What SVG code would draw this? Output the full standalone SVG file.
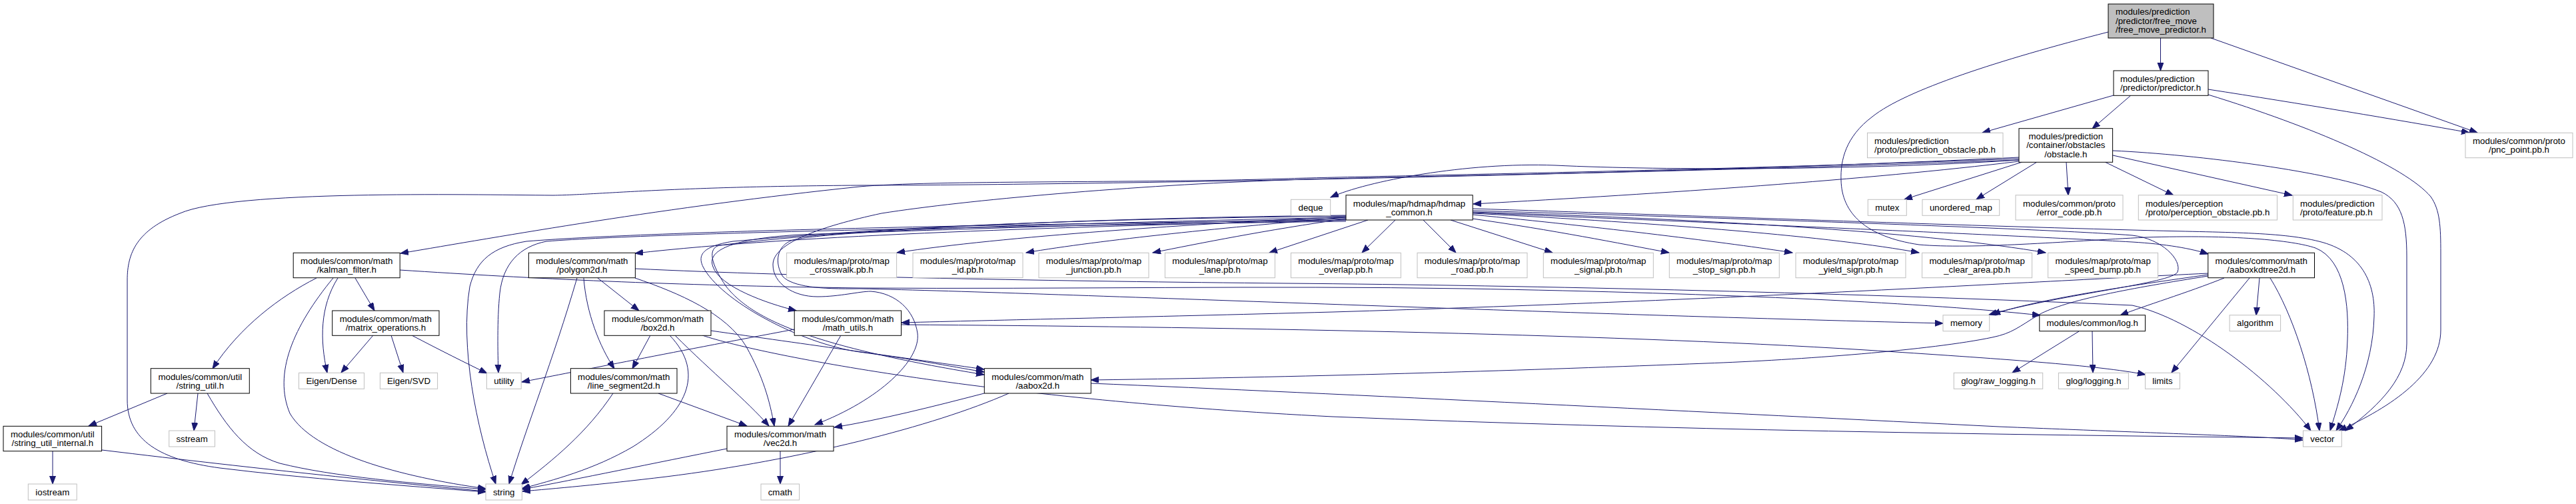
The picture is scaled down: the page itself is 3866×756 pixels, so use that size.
<svg xmlns="http://www.w3.org/2000/svg" width="3866" height="756" viewBox="0 0 3866 756">
<style>
.n rect{fill:#fff;stroke:#000;stroke-width:1}
.x rect{fill:#fff;stroke:#bfbfbf;stroke-width:1}
.r rect{fill:#bfbfbf;stroke:#000;stroke-width:1}
text{font-family:"Liberation Sans",Arial,Helvetica,sans-serif;font-size:13.3px;fill:#000}
.c{text-anchor:middle}
#edges path{fill:none;stroke:#191970;stroke-width:1;marker-end:url(#ah)}
</style>
<defs>
<marker id="ah" markerWidth="14" markerHeight="11" refX="12" refY="4.5" orient="auto" markerUnits="userSpaceOnUse"><path d="M0,0 L12,4.5 L0,9 Z" fill="#191970" stroke="#191970" stroke-width="1"/></marker>
</defs>
<rect width="3866" height="756" fill="#fff"/>
<g id="edges">
<path d="M3242.5,57 L3242.5,106"/>
<path d="M3318,57 L3718,199"/>
<path d="M3314,134 C3450,155 3600,180 3706,199"/>
<path d="M3172,143 L2975,199"/>
<path d="M3198,143 L3140,193"/>
<path d="M3314,142 C3470,190 3610,250 3648,295 C3662,315 3663,340 3663,380 L3663,495 C3663,560 3590,610 3510,646"/>
<path d="M3171,226 C3300,232 3500,258 3574,288 C3605,303 3612,335 3612,385 L3612,515 C3612,565 3575,605 3520,646"/>
<path d="M3164,48 C3000,90 2860,135 2810,175 C2770,205 2762,240 2763,270 C2764,320 2800,355 2880,367 C2960,374 3100,362 3220,356 C3350,352 3440,360 3475,372 C3520,390 3525,460 3523,510 C3521,570 3508,610 3497,646"/>
<path d="M2210,313 C2500,322 2900,337 3200,345 C3330,349 3420,347 3480,362 C3545,378 3565,425 3563,475 C3561,550 3530,612 3506,646"/>
<path d="M2210,319 C2600,335 3000,352 3200,363 C3250,366 3290,373 3314,381"/>
<path d="M2210,316 C2700,330 3100,345 3200,353 C3245,358 3275,390 3268,408 C3260,425 3100,440 2985,472"/>
<path d="M3314,412 C3200,428 3050,450 2990,472"/>
<path d="M3314,414 C3200,432 3100,450 3060,472 C3030,490 3020,500 2990,506 C2900,525 2700,540 2560,545 C2300,555 2000,565 1637,570"/>
<path d="M3314,410 C3000,425 2600,450 2000,468 C1700,476 1500,480 1353,484"/>
<path d="M3338,417 C3280,440 3220,458 3182,473"/>
<path d="M3391,417 L3386,473"/>
<path d="M3376,417 L3259,559"/>
<path d="M3407,417 C3440,470 3470,560 3481,646"/>
<path d="M953,403 C1200,415 1600,422 1930,425 C2300,428 2800,440 3200,458 C3290,478 3410,570 3468,646"/>
<path d="M600,405 C800,418 1000,428 1290,432 C1600,434 1900,428 2200,433 C2600,440 2900,455 3062,473"/>
<path d="M2020,326 C1600,335 1250,345 1190,360 C1165,368 1162,395 1175,415 C1190,430 1230,434 1290,433 C1600,440 2300,470 2916,485"/>
<path d="M3030,240 C2500,260 2050,265 1930,270 C1700,278 1450,300 1323,320 C1230,340 1160,365 1160,397 C1160,425 1190,445 1227,445 C1260,445 1290,437 1307,437 C1345,440 1372,465 1377,500 C1382,540 1320,600 1223,637"/>
<path d="M2020,328 C1700,335 1400,345 1200,352 C1100,358 1060,375 1070,400 C1080,430 1150,455 1195,466"/>
<path d="M2020,324 C1700,328 1400,335 1100,362 C1050,370 1048,385 1055,400 C1080,450 1200,515 1290,528 C1380,540 1440,552 1477,558"/>
<path d="M2020,323 C1700,326 1300,340 1080,368 C1062,372 1066,395 1090,430 C1130,480 1220,520 1477,562"/>
<path d="M2020,330 C1600,335 1000,345 790,362 C740,370 715,390 705,430 C690,520 715,640 744,726"/>
<path d="M2020,332 C1600,338 1000,348 820,362 C780,370 755,395 750,440 C746,480 747,530 748,559"/>
<path d="M2020,330 C1600,340 1200,352 953,380"/>
<path d="M2020,325 C1800,335 1500,355 1346,379"/>
<path d="M2020,326 C1850,340 1650,360 1540,379"/>
<path d="M2020,328 C1900,345 1800,365 1730,379"/>
<path d="M2053,330 L1905,379"/>
<path d="M2094,330 L2044,379"/>
<path d="M2136,330 L2185,379"/>
<path d="M2177,330 L2330,379"/>
<path d="M2210,328 C2330,345 2430,365 2505,379"/>
<path d="M2210,322 C2400,340 2600,365 2690,379"/>
<path d="M2210,320 C2500,335 2750,355 2880,379"/>
<path d="M2210,318 C2600,330 2900,350 3070,379"/>
<path d="M3030,240 C2800,255 2500,256 2334,248 C2200,243 2050,272 1997,296"/>
<path d="M3030,242 C2800,270 2500,290 2211,306"/>
<path d="M3030,238 C2500,258 2000,265 1930,268 C1700,275 1400,270 1290,280 C1000,310 750,355 601,380"/>
<path d="M3030,236 C2500,262 1600,278 1290,278 C1000,280 900,292 830,293 C700,292 350,285 270,320 C205,345 191,380 191,420 L191,600 C191,660 240,690 330,702 C460,718 600,728 729,738"/>
<path d="M3035,243 L2858,299"/>
<path d="M3057,243 L2966,299"/>
<path d="M3101,243 L3104,293"/>
<path d="M3159,243 L3262,293"/>
<path d="M3171,233 L3440,293"/>
<path d="M475,417 C420,445 360,490 319,553"/>
<path d="M500,417 C440,490 410,560 435,620 C470,680 600,715 729,733"/>
<path d="M507,417 C480,460 480,510 491,559"/>
<path d="M533,417 L562,466"/>
<path d="M560,503 L512,559"/>
<path d="M587,503 L605,559"/>
<path d="M618,503 C660,525 700,545 731,560"/>
<path d="M251,590 L133,639"/>
<path d="M297,590 L291,646"/>
<path d="M311,590 C340,640 370,680 420,695 C500,715 620,725 729,734"/>
<path d="M79,677 L79,726"/>
<path d="M153,675 C400,705 600,725 729,737"/>
<path d="M866,417 C830,540 790,640 764,726"/>
<path d="M876,417 C880,470 900,520 922,553"/>
<path d="M897,417 L959,466"/>
<path d="M953,417 C1020,440 1090,470 1120,520 C1145,565 1155,600 1162,639"/>
<path d="M976,503 L949,553"/>
<path d="M1005,503 C1060,560 1030,620 950,670 C890,705 830,720 783,733"/>
<path d="M1013,503 C1070,560 1120,600 1154,639"/>
<path d="M1067,496 C1200,515 1380,540 1477,554"/>
<path d="M1054,503 C1150,535 1500,600 2000,625 C2500,645 3000,652 3456,657"/>
<path d="M988,590 L1121,639"/>
<path d="M920,590 C880,650 830,690 782,727"/>
<path d="M1091,673 C980,695 870,718 784,734"/>
<path d="M1171,677 L1171,726"/>
<path d="M1262,503 L1183,639"/>
<path d="M1192,494 C1000,530 850,560 783,573"/>
<path d="M1353,487 C1800,490 2400,500 2800,525 C3000,538 3150,548 3220,562"/>
<path d="M1477,590 C1400,610 1320,630 1252,641"/>
<path d="M1514,590 C1400,640 1200,690 1000,715 C900,727 830,733 784,737"/>
<path d="M1637,575 C2000,590 2600,620 3000,640 C3300,652 3400,655 3456,660"/>
<path d="M3120,497 L3020,559"/>
<path d="M3140,497 L3141,559"/>
</g>
<g id="n_root" class="r"><rect x="3164" y="6" width="158" height="51"/><text x="3175" y="22">modules/prediction</text><text x="3175" y="35.8">/predictor/free_move</text><text x="3175" y="49.3">/free_move_predictor.h</text></g>
<g id="n_predictor" class="n"><rect x="3172" y="106" width="142" height="37.3"/><text x="3182" y="122.5">modules/prediction</text><text x="3182" y="136">/predictor/predictor.h</text></g>
<g id="n_pnc" class="x"><rect x="3700" y="199.3" width="161" height="37.4"/><text class="c" x="3780.5" y="216.3">modules/common/proto</text><text class="c" x="3780.5" y="229.3">/pnc_point.pb.h</text></g>
<g id="n_predobs" class="x"><rect x="2802.5" y="199.3" width="203.5" height="37.4"/><text x="2813" y="216.3">modules/prediction</text><text x="2813" y="229.3">/proto/prediction_obstacle.pb.h</text></g>
<g id="n_obstacle" class="n"><rect x="3030" y="192.7" width="140.6" height="50.6"/><text class="c" x="3100.3" y="208.8">modules/prediction</text><text class="c" x="3100.3" y="222.3">/container/obstacles</text><text class="c" x="3100.3" y="235.8">/obstacle.h</text></g>
<g id="n_mutex" class="x"><rect x="2803.3" y="299.3" width="58" height="24"/><text class="c" x="2832.3" y="316">mutex</text></g>
<g id="n_umap" class="x"><rect x="2885" y="299.3" width="115.7" height="24"/><text class="c" x="2942.9" y="316">unordered_map</text></g>
<g id="n_errcode" class="x"><rect x="3025" y="292.7" width="161" height="37.3"/><text class="c" x="3105.5" y="309.7">modules/common/proto</text><text class="c" x="3105.5" y="322.7">/error_code.pb.h</text></g>
<g id="n_percep" class="x"><rect x="3209.3" y="292.7" width="208.2" height="37.3"/><text x="3220" y="309.7">modules/perception</text><text x="3220" y="322.7">/proto/perception_obstacle.pb.h</text></g>
<g id="n_feature" class="x"><rect x="3441.3" y="292.7" width="133.7" height="37.3"/><text x="3452" y="309.7">modules/prediction</text><text x="3452" y="322.7">/proto/feature.pb.h</text></g>
<g id="n_deque" class="x"><rect x="1937.4" y="299.3" width="59.3" height="24"/><text class="c" x="1967" y="316">deque</text></g>
<g id="n_hdmap" class="n"><rect x="2020" y="292.7" width="190.2" height="37.3"/><text class="c" x="2115" y="309.7">modules/map/hdmap/hdmap</text><text class="c" x="2115" y="322.7">_common.h</text></g>
<g id="n_kalman" class="n"><rect x="440.2" y="379.3" width="160" height="37.4"/><text class="c" x="520.2" y="396.3">modules/common/math</text><text class="c" x="520.2" y="409.3">/kalman_filter.h</text></g>
<g id="n_polygon2d" class="n"><rect x="793.4" y="379.3" width="160" height="37.4"/><text class="c" x="873.4" y="396.3">modules/common/math</text><text class="c" x="873.4" y="409.3">/polygon2d.h</text></g>
<g id="n_crosswalk" class="x"><rect x="1180.6" y="379.3" width="165" height="37.4"/><text class="c" x="1263.1" y="396.3">modules/map/proto/map</text><text class="c" x="1263.1" y="409.3">_crosswalk.pb.h</text></g>
<g id="n_mapid" class="x"><rect x="1370" y="379.3" width="165" height="37.4"/><text class="c" x="1452.5" y="396.3">modules/map/proto/map</text><text class="c" x="1452.5" y="409.3">_id.pb.h</text></g>
<g id="n_junction" class="x"><rect x="1559" y="379.3" width="165" height="37.4"/><text class="c" x="1641.5" y="396.3">modules/map/proto/map</text><text class="c" x="1641.5" y="409.3">_junction.pb.h</text></g>
<g id="n_lane" class="x"><rect x="1748.4" y="379.3" width="165" height="37.4"/><text class="c" x="1830.9" y="396.3">modules/map/proto/map</text><text class="c" x="1830.9" y="409.3">_lane.pb.h</text></g>
<g id="n_overlap" class="x"><rect x="1937.4" y="379.3" width="165" height="37.4"/><text class="c" x="2019.9" y="396.3">modules/map/proto/map</text><text class="c" x="2019.9" y="409.3">_overlap.pb.h</text></g>
<g id="n_road" class="x"><rect x="2127" y="379.3" width="165" height="37.4"/><text class="c" x="2209.5" y="396.3">modules/map/proto/map</text><text class="c" x="2209.5" y="409.3">_road.pb.h</text></g>
<g id="n_signal" class="x"><rect x="2316.3" y="379.3" width="165" height="37.4"/><text class="c" x="2398.8" y="396.3">modules/map/proto/map</text><text class="c" x="2398.8" y="409.3">_signal.pb.h</text></g>
<g id="n_stopsign" class="x"><rect x="2505.3" y="379.3" width="165" height="37.4"/><text class="c" x="2587.8" y="396.3">modules/map/proto/map</text><text class="c" x="2587.8" y="409.3">_stop_sign.pb.h</text></g>
<g id="n_yield" class="x"><rect x="2695" y="379.3" width="165" height="37.4"/><text class="c" x="2777.5" y="396.3">modules/map/proto/map</text><text class="c" x="2777.5" y="409.3">_yield_sign.pb.h</text></g>
<g id="n_cleararea" class="x"><rect x="2884.6" y="379.3" width="165" height="37.4"/><text class="c" x="2967.1" y="396.3">modules/map/proto/map</text><text class="c" x="2967.1" y="409.3">_clear_area.pb.h</text></g>
<g id="n_speedbump" class="x"><rect x="3073.6" y="379.3" width="165" height="37.4"/><text class="c" x="3156.1" y="396.3">modules/map/proto/map</text><text class="c" x="3156.1" y="409.3">_speed_bump.pb.h</text></g>
<g id="n_aaboxkd" class="n"><rect x="3313.8" y="379.3" width="159.7" height="37.4"/><text class="c" x="3393.7" y="396.3">modules/common/math</text><text class="c" x="3393.7" y="409.3">/aaboxkdtree2d.h</text></g>
<g id="n_matrix" class="n"><rect x="498.7" y="466" width="160.3" height="37.3"/><text class="c" x="578.9" y="483">modules/common/math</text><text class="c" x="578.9" y="496">/matrix_operations.h</text></g>
<g id="n_box2d" class="n"><rect x="907" y="466" width="160" height="37.3"/><text class="c" x="987" y="483">modules/common/math</text><text class="c" x="987" y="496">/box2d.h</text></g>
<g id="n_mathutils" class="n"><rect x="1192.2" y="466" width="160.3" height="37.3"/><text class="c" x="1272.4" y="483">modules/common/math</text><text class="c" x="1272.4" y="496">/math_utils.h</text></g>
<g id="n_memory" class="x"><rect x="2916" y="472.7" width="69.7" height="24"/><text class="c" x="2950.9" y="489.4">memory</text></g>
<g id="n_log" class="n"><rect x="3060.8" y="472.7" width="158.7" height="24"/><text class="c" x="3140.2" y="489.4">modules/common/log.h</text></g>
<g id="n_algorithm" class="x"><rect x="3346.1" y="472.7" width="76.5" height="24"/><text class="c" x="3384.4" y="489.4">algorithm</text></g>
<g id="n_stringutil" class="n"><rect x="226.3" y="552.7" width="148" height="37.3"/><text class="c" x="300.3" y="569.7">modules/common/util</text><text class="c" x="300.3" y="582.7">/string_util.h</text></g>
<g id="n_eigendense" class="x"><rect x="448.5" y="559.3" width="98" height="24"/><text class="c" x="497.5" y="576">Eigen/Dense</text></g>
<g id="n_eigensvd" class="x"><rect x="570.4" y="559.3" width="86.2" height="24"/><text class="c" x="613.5" y="576">Eigen/SVD</text></g>
<g id="n_utility" class="x"><rect x="730.4" y="559.3" width="51.8" height="24"/><text class="c" x="756.3" y="576">utility</text></g>
<g id="n_lineseg" class="n"><rect x="856.4" y="552.7" width="159.6" height="37.3"/><text class="c" x="936.2" y="569.7">modules/common/math</text><text class="c" x="936.2" y="582.7">/line_segment2d.h</text></g>
<g id="n_aabox2d" class="n"><rect x="1477.3" y="552.7" width="160" height="37.3"/><text class="c" x="1557.3" y="569.7">modules/common/math</text><text class="c" x="1557.3" y="582.7">/aabox2d.h</text></g>
<g id="n_rawlog" class="x"><rect x="2932.3" y="559.3" width="133.4" height="24"/><text class="c" x="2999" y="576">glog/raw_logging.h</text></g>
<g id="n_glog" class="x"><rect x="3089.4" y="559.3" width="105" height="24"/><text class="c" x="3141.9" y="576">glog/logging.h</text></g>
<g id="n_limits" class="x"><rect x="3219.5" y="559.3" width="52" height="24"/><text class="c" x="3245.5" y="576">limits</text></g>
<g id="n_sui" class="n"><rect x="5" y="639.3" width="147.6" height="37.4"/><text class="c" x="78.8" y="656.3">modules/common/util</text><text class="c" x="78.8" y="669.3">/string_util_internal.h</text></g>
<g id="n_sstream" class="x"><rect x="253.7" y="646" width="68.8" height="24"/><text class="c" x="288.1" y="662.7">sstream</text></g>
<g id="n_vec2d" class="n"><rect x="1091" y="639.3" width="160" height="37.4"/><text class="c" x="1171" y="656.3">modules/common/math</text><text class="c" x="1171" y="669.3">/vec2d.h</text></g>
<g id="n_vector" class="x"><rect x="3456.5" y="646" width="57.8" height="24"/><text class="c" x="3485.4" y="662.7">vector</text></g>
<g id="n_iostream" class="x"><rect x="42.3" y="726" width="72.9" height="24"/><text class="c" x="78.8" y="742.7">iostream</text></g>
<g id="n_string" class="x"><rect x="729" y="726" width="54.4" height="24"/><text class="c" x="756.2" y="742.7">string</text></g>
<g id="n_cmath" class="x"><rect x="1142" y="726" width="57.6" height="24"/><text class="c" x="1170.8" y="742.7">cmath</text></g>
</svg>
